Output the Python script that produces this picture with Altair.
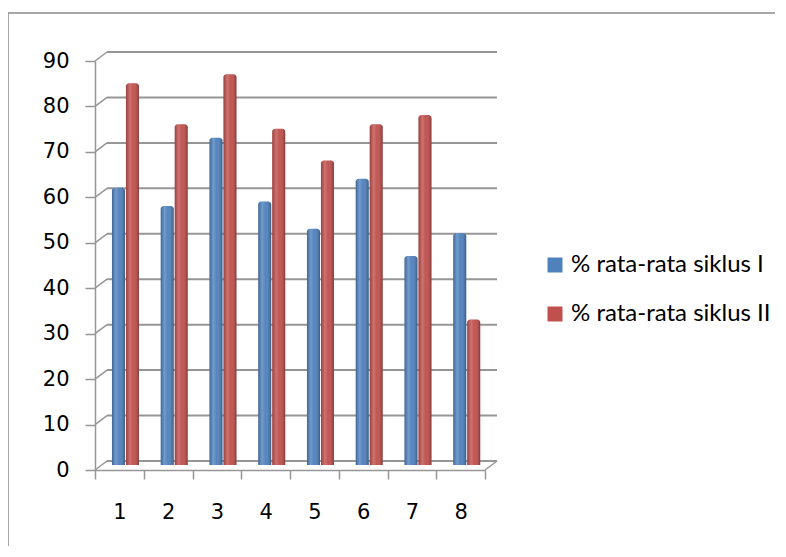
import altair as alt
import pandas as pd

categories = ["1", "2", "3", "4", "5", "6", "7", "8"]
siklus_1 = [61, 57, 72, 58, 52, 63, 46, 51]
siklus_2 = [84, 75, 86, 74, 67, 75, 77, 32]
series_names = ["% rata-rata siklus I", "% rata-rata siklus II"]
series_colors = ["#4F81BD", "#C0504D"]
y_ticks = [0, 10, 20, 30, 40, 50, 60, 70, 80, 90]

rows = []
for c, a, b in zip(categories, siklus_1, siklus_2):
    rows.append({"cat": c, "series": series_names[0], "value": a})
    rows.append({"cat": c, "series": series_names[1], "value": b})
df = pd.DataFrame(rows)
grid_df = pd.DataFrame({"value": y_ticks})

W, H = 390, 409
GRAY = "#969696"

xscale = alt.Scale(domain=categories, paddingInner=0, paddingOuter=0)
yscale = alt.Scale(domain=[0, 90], nice=False)
xoff_scale = alt.Scale(domain=series_names, paddingInner=0.07,
                       paddingOuter=0.777, align=0.78)

x_axis = alt.Axis(title=None, labelAngle=0, labelFontSize=21,
                  labelFont="DejaVu Sans", labelColor="#000000",
                  labelPadding=22, tickBand="extent", tickSize=9,
                  tickColor=GRAY, tickWidth=1.5, domainColor=GRAY,
                  domainWidth=1.5, grid=False)
y_axis = alt.Axis(title=None, values=y_ticks, labelFontSize=21,
                  labelFont="DejaVu Sans", labelColor="#000000",
                  labelPadding=16, tickSize=10, tickColor=GRAY,
                  tickWidth=1.5, domainColor=GRAY, domainWidth=1.5,
                  grid=False)

x_enc = alt.X("cat:N", scale=xscale, sort=categories, axis=x_axis)
y_enc = alt.Y("value:Q", scale=yscale, axis=y_axis)
y_bar = alt.Y("value:Q", scale=yscale, axis=y_axis, stack=None)

# back-wall gridlines
grid = alt.Chart(grid_df).mark_rule(color=GRAY, strokeWidth=2, yOffset=-9).encode(
    y=y_enc,
    x=alt.value(12), x2=alt.value(402),
)
diag = alt.Chart(grid_df).mark_rule(color=GRAY, strokeWidth=1.5, y2Offset=-9).encode(
    y=y_enc,
    y2=alt.Y2("value:Q"),
    x=alt.value(0), x2=alt.value(12),
)
floor_right = alt.Chart(pd.DataFrame({"value": [0]})).mark_rule(
    color=GRAY, strokeWidth=1.5, y2Offset=-9).encode(
    y=y_enc,
    y2=alt.Y2("value:Q"),
    x=alt.value(390), x2=alt.value(402),
)

bars = alt.Chart(df).mark_bar(yOffset=-5, y2Offset=-5, cornerRadiusTopLeft=3,
                              cornerRadiusTopRight=3).encode(
    x=x_enc,
    xOffset=alt.XOffset("series:N", sort=series_names, scale=xoff_scale),
    y=y_bar,
    y2=alt.datum(0),
    color=alt.Color("series:N", sort=series_names,
                    scale=alt.Scale(domain=series_names, range=series_colors),
                    legend=alt.Legend(title=None, orient="none", legendX=448,
                                      legendY=192, symbolType="square",
                                      symbolSize=225, symbolStrokeWidth=0,
                                      labelFontSize=24, labelFont="Lato",
                                      labelColor="#000000", rowPadding=25,
                                      labelOffset=4, labelLimit=400)),
)

shade = alt.Chart(df).mark_bar(
    yOffset=-5, y2Offset=-5, cornerRadiusTopLeft=3, cornerRadiusTopRight=3,
    color=alt.Gradient(
        gradient="linear", x1=0, x2=1, y1=0, y2=0,
        stops=[
            alt.GradientStop(offset=0, color="rgba(0,0,0,0.2)"),
            alt.GradientStop(offset=0.3, color="rgba(255,255,255,0.2)"),
            alt.GradientStop(offset=0.55, color="rgba(255,255,255,0.03)"),
            alt.GradientStop(offset=1, color="rgba(0,0,0,0.3)"),
        ],
    ),
).encode(
    x=x_enc,
    xOffset=alt.XOffset("series:N", sort=series_names, scale=xoff_scale),
    y=y_bar,
    y2=alt.datum(0),
)

one = pd.DataFrame({"k": [0]})
frame_left = alt.Chart(one).mark_rule(color="#8a8a8a", strokeWidth=1.5, clip=False).encode(
    x=alt.value(-87), y=alt.value(-48), y2=alt.value(500))
frame_top = alt.Chart(one).mark_rule(color="#8a8a8a", strokeWidth=1.5, clip=False).encode(
    x=alt.value(-87), x2=alt.value(700), y=alt.value(-48))

chart = alt.layer(grid, diag, floor_right, bars, shade, frame_left, frame_top).properties(
    width=W, height=H,
    background="#ffffff",
    autosize=alt.AutoSizeParams(type="none"),
    padding={"left": 87, "top": 53, "right": 290, "bottom": 76},
).configure_view(strokeWidth=0)

chart.save("out.html", embed_options={"renderer": "svg", "actions": False})
